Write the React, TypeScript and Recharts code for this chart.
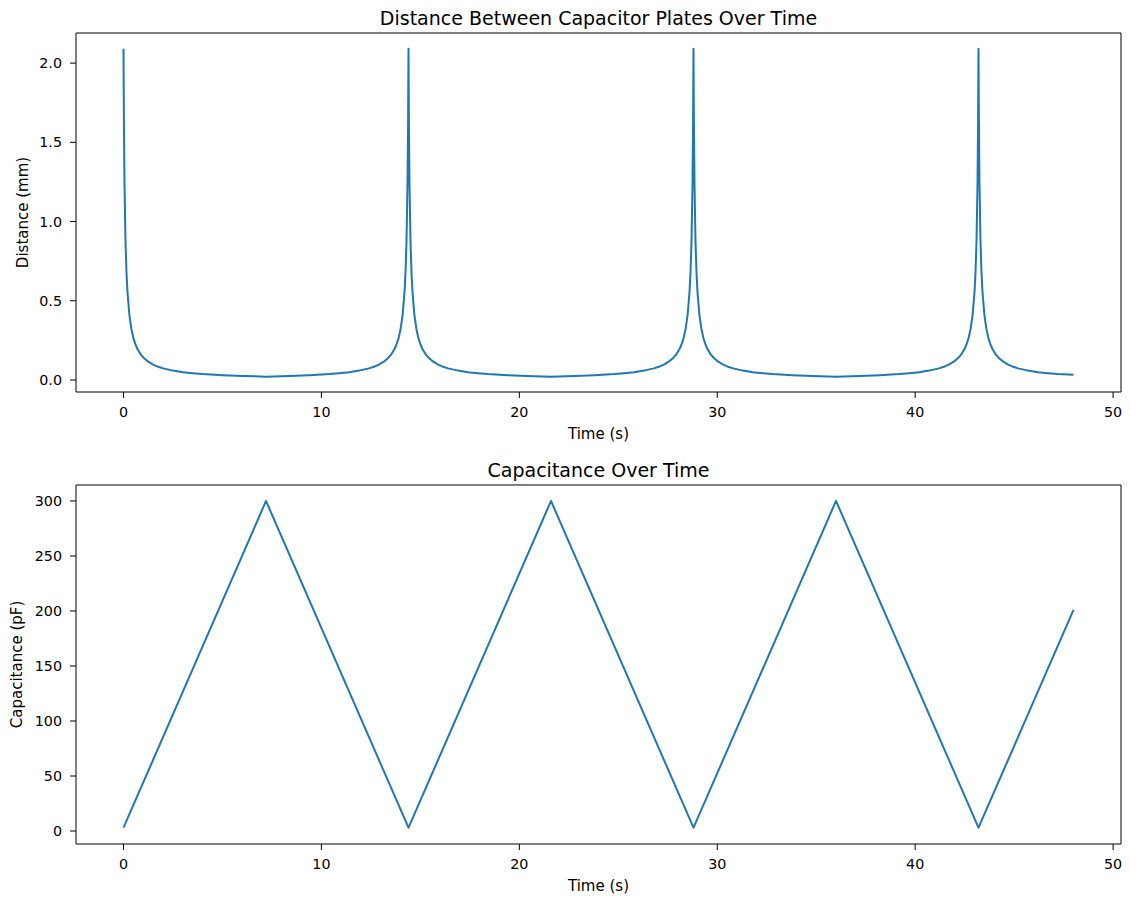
import React from 'react';
import { LineChart, Line, XAxis, YAxis, ReferenceArea } from 'recharts';

const FONT = '"DejaVu Sans", "Liberation Sans", sans-serif';
const LINE_COLOR = '#1f77b4';

// Axis ticks
const timeTicks = [0, 10, 20, 30, 40, 50];
const distanceTicks = [0, 0.5, 1.0, 1.5, 2.0];
const capacitanceTicks = [0, 50, 100, 150, 200, 250, 300];

// Capacitance (pF): a triangle sweep between ~3 pF and 300 pF
const capacitanceTime = [0, 7.2, 14.4, 21.6, 28.8, 36.0, 43.2, 48.0];
const capacitancePf = [3, 300, 3, 300, 3, 300, 3, 201];

// Plate distance (mm) sampled over time, one row per half-sweep
const distanceTime = [
  0, 0.02, 0.05, 0.1, 0.15, 0.2, 0.3, 0.4, 0.5, 0.6, 0.7, 0.85, 1.0, 1.25, 1.5, 1.75, 2.0, 2.5, 3.0, 3.5, 4.0, 5.0, 6.0, 7.2,
  8.4, 9.4, 10.4, 10.9, 11.4, 11.9, 12.4, 12.65, 12.9, 13.15, 13.4, 13.55, 13.7, 13.8, 13.9, 14.0, 14.1, 14.2, 14.25, 14.3, 14.35, 14.38, 14.4,
  14.42, 14.45, 14.5, 14.55, 14.6, 14.7, 14.8, 14.9, 15.0, 15.1, 15.25, 15.4, 15.65, 15.9, 16.15, 16.4, 16.9, 17.4, 17.9, 18.4, 19.4, 20.4, 21.6,
  22.8, 23.8, 24.8, 25.3, 25.8, 26.3, 26.8, 27.05, 27.3, 27.55, 27.8, 27.95, 28.1, 28.2, 28.3, 28.4, 28.5, 28.6, 28.65, 28.7, 28.75, 28.78, 28.8,
  28.82, 28.85, 28.9, 28.95, 29.0, 29.1, 29.2, 29.3, 29.4, 29.5, 29.65, 29.8, 30.05, 30.3, 30.55, 30.8, 31.3, 31.8, 32.3, 32.8, 33.8, 34.8, 36.0,
  37.2, 38.2, 39.2, 39.7, 40.2, 40.7, 41.2, 41.45, 41.7, 41.95, 42.2, 42.35, 42.5, 42.6, 42.7, 42.8, 42.9, 43.0, 43.05, 43.1, 43.15, 43.18, 43.2,
  43.22, 43.25, 43.3, 43.35, 43.4, 43.5, 43.6, 43.7, 43.8, 43.9, 44.05, 44.2, 44.45, 44.7, 44.95, 45.2, 45.7, 46.2, 46.7, 47.2, 48.0,
];
const distanceMm = [
  2.09, 1.64, 1.24, 0.88, 0.682, 0.557, 0.408, 0.322, 0.265, 0.226, 0.197, 0.165, 0.142, 0.115, 0.097, 0.083, 0.073, 0.059, 0.049, 0.043, 0.037, 0.030, 0.025, 0.021,
  0.025, 0.030, 0.037, 0.043, 0.049, 0.059, 0.073, 0.083, 0.097, 0.115, 0.142, 0.165, 0.197, 0.226, 0.265, 0.322, 0.408, 0.557, 0.682, 0.88, 1.24, 1.64, 2.09,
  1.64, 1.24, 0.88, 0.682, 0.557, 0.408, 0.322, 0.265, 0.226, 0.197, 0.165, 0.142, 0.115, 0.097, 0.083, 0.073, 0.059, 0.049, 0.043, 0.037, 0.030, 0.025, 0.021,
  0.025, 0.030, 0.037, 0.043, 0.049, 0.059, 0.073, 0.083, 0.097, 0.115, 0.142, 0.165, 0.197, 0.226, 0.265, 0.322, 0.408, 0.557, 0.682, 0.88, 1.24, 1.64, 2.09,
  1.64, 1.24, 0.88, 0.682, 0.557, 0.408, 0.322, 0.265, 0.226, 0.197, 0.165, 0.142, 0.115, 0.097, 0.083, 0.073, 0.059, 0.049, 0.043, 0.037, 0.030, 0.025, 0.021,
  0.025, 0.030, 0.037, 0.043, 0.049, 0.059, 0.073, 0.083, 0.097, 0.115, 0.142, 0.165, 0.197, 0.226, 0.265, 0.322, 0.408, 0.557, 0.682, 0.88, 1.24, 1.64, 2.09,
  1.64, 1.24, 0.88, 0.682, 0.557, 0.408, 0.322, 0.265, 0.226, 0.197, 0.165, 0.142, 0.115, 0.097, 0.083, 0.073, 0.059, 0.049, 0.043, 0.037, 0.033,
];

const distanceData = distanceTime.map((t, i) => ({ t, d: distanceMm[i] }));
const capacitanceData = capacitanceTime.map((t, i) => ({ t, c: capacitancePf[i] }));

const TIME_DOMAIN: [number, number] = [-2.4, 50.4];
const DIST_DOMAIN: [number, number] = [-0.076, 2.19];
const CAP_DOMAIN: [number, number] = [-11.8, 314.5];

const tickStyle = { fontSize: 14.3, fill: '#000', fontFamily: FONT };

function Panel(props: {
  data: Array<Record<string, number>>;
  dataKey: string;
  yDomain: [number, number];
  yTicks: number[];
  yFormat: (v: number) => string;
  top: number;
  marginTop: number;
  marginBottom: number;
}) {
  const { data, dataKey, yDomain, yTicks, yFormat, top, marginTop, marginBottom } = props;
  return (
    <div style={{ position: 'absolute', left: 0, top }}>
      <LineChart
        width={1131}
        height={450}
        data={data}
        margin={{ top: marginTop, right: 10, bottom: marginBottom, left: 0 }}
      >
        <XAxis
          type="number"
          dataKey="t"
          domain={TIME_DOMAIN}
          ticks={timeTicks}
          allowDataOverflow
          axisLine={false}
          tickLine={{ stroke: '#000', strokeWidth: 1 }}
          tickSize={6}
          tickMargin={9}
          tick={tickStyle}
          height={30}
        />
        <YAxis
          type="number"
          domain={yDomain}
          ticks={yTicks}
          allowDataOverflow
          axisLine={false}
          tickLine={{ stroke: '#000', strokeWidth: 1 }}
          tickSize={6}
          tickMargin={8}
          tick={tickStyle}
          tickFormatter={yFormat}
          width={76}
        />
        <ReferenceArea
          x1={TIME_DOMAIN[0]}
          x2={TIME_DOMAIN[1]}
          y1={yDomain[0]}
          y2={yDomain[1]}
          fill="none"
          fillOpacity={0}
          stroke="#000"
          strokeWidth={1}
          ifOverflow="visible"
        />
        <Line
          type="linear"
          dataKey={dataKey}
          stroke={LINE_COLOR}
          strokeWidth={2}
          strokeLinejoin="round"
          dot={false}
          activeDot={false}
          isAnimationActive={false}
        />
      </LineChart>
    </div>
  );
}

export default function App() {
  const textProps = { fontFamily: FONT, fill: '#000' };
  return (
    <div
      style={{
        position: 'absolute',
        left: 0,
        top: 0,
        width: 1131,
        height: 900,
        background: '#fff',
        overflow: 'hidden',
      }}
    >
      <Panel
        data={distanceData}
        dataKey="d"
        yDomain={DIST_DOMAIN}
        yTicks={distanceTicks}
        yFormat={(v) => v.toFixed(1)}
        top={0}
        marginTop={33}
        marginBottom={28}
      />
      <Panel
        data={capacitanceData}
        dataKey="c"
        yDomain={CAP_DOMAIN}
        yTicks={capacitanceTicks}
        yFormat={(v) => String(v)}
        top={450}
        marginTop={35}
        marginBottom={26}
      />
      <svg
        width={1131}
        height={900}
        style={{ position: 'absolute', left: 0, top: 0, pointerEvents: 'none' }}
      >
        <text x={598.5} y={25} textAnchor="middle" fontSize={19} {...textProps}>
          Distance Between Capacitor Plates Over Time
        </text>
        <text x={598.5} y={439} textAnchor="middle" fontSize={15} {...textProps}>
          Time (s)
        </text>
        <text
          transform="translate(27.5,212.5) rotate(-90)"
          textAnchor="middle"
          fontSize={15}
          {...textProps}
        >
          Distance (mm)
        </text>
        <text x={598.5} y={477} textAnchor="middle" fontSize={19} {...textProps}>
          Capacitance Over Time
        </text>
        <text x={598.5} y={891} textAnchor="middle" fontSize={15} {...textProps}>
          Time (s)
        </text>
        <text
          transform="translate(21.5,664.5) rotate(-90)"
          textAnchor="middle"
          fontSize={15}
          {...textProps}
        >
          Capacitance (pF)
        </text>
      </svg>
    </div>
  );
}
